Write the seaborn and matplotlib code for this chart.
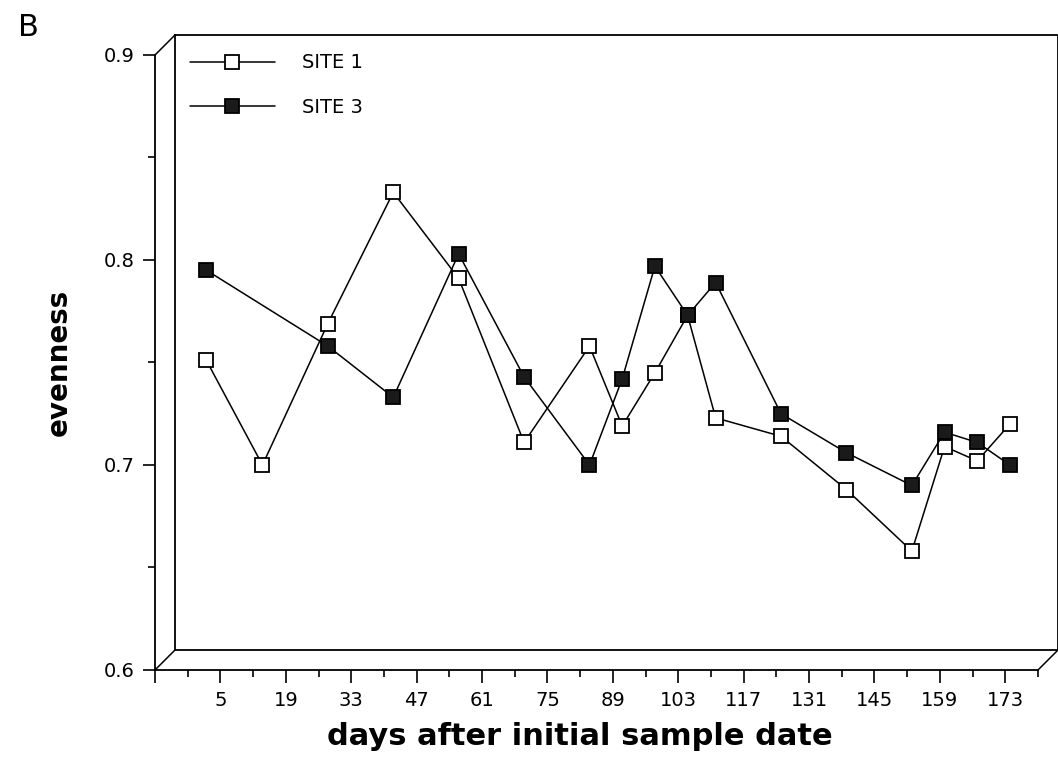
"""Evenness over time at two sampling sites (panel B), pseudo-3D frame."""

import matplotlib

matplotlib.use("Agg")
import matplotlib.pyplot as plt
import matplotlib.transforms as mtransforms
from matplotlib.lines import Line2D
from matplotlib.ticker import FixedLocator, NullFormatter
import pandas as pd
import seaborn as sns

# values
days_site1 = [2, 14, 28, 42, 56, 70, 84, 91, 98, 105, 111, 125, 139, 153, 160, 167, 174]
even_site1 = [0.751, 0.700, 0.769, 0.833, 0.791, 0.711, 0.758, 0.719, 0.745, 0.773,
              0.723, 0.714, 0.688, 0.658, 0.709, 0.702, 0.720]
days_site3 = [2, 28, 42, 56, 70, 84, 91, 98, 105, 111, 125, 139, 153, 160, 167, 174]
even_site3 = [0.795, 0.758, 0.733, 0.803, 0.743, 0.700, 0.742, 0.797, 0.773, 0.789,
              0.725, 0.706, 0.690, 0.716, 0.711, 0.700]

x_major = [-9, 5, 19, 33, 47, 61, 75, 89, 103, 117, 131, 145, 159, 173]
x_labels = [""] + [str(d) for d in x_major[1:]]
x_minor = [-2, 12, 26, 40, 54, 68, 82, 96, 110, 124, 138, 152, 166, 180]
y_major = [0.6, 0.7, 0.8, 0.9]
y_labels = ["0.6", "0.7", "0.8", "0.9"]
y_minor = [0.65, 0.75, 0.85]

sns.set_style("ticks")
plt.rcParams["font.family"] = ["DejaVu Sans"]
plt.rcParams["text.color"] = "black"
plt.rcParams["axes.labelcolor"] = "black"
plt.rcParams["xtick.color"] = "black"
plt.rcParams["ytick.color"] = "black"

df1 = pd.DataFrame({"day": days_site1, "evenness": even_site1})
df3 = pd.DataFrame({"day": days_site3, "evenness": even_site3})

W, H, DPI = 1058, 769, 100
fig = plt.figure(figsize=(W / DPI, H / DPI), dpi=DPI)
ax = fig.add_axes([155 / W, (H - 670) / H, 883 / W, 615 / H])

line_kw = dict(color="black", linewidth=1.1, marker="s", markersize=10,
               markeredgewidth=1.3, markeredgecolor="black")
sns.lineplot(data=df1, x="day", y="evenness", ax=ax, markerfacecolor="white",
             **line_kw)
sns.lineplot(data=df3, x="day", y="evenness", ax=ax, markerfacecolor="#1a1a1a",
             **line_kw)

ax.set_xlim(-9, 180)
ax.set_ylim(0.6, 0.9)
ax.xaxis.set_major_locator(FixedLocator(x_major))
ax.set_xticklabels(x_labels)
ax.xaxis.set_minor_locator(FixedLocator(x_minor))
ax.xaxis.set_minor_formatter(NullFormatter())
ax.yaxis.set_major_locator(FixedLocator(y_major))
ax.set_yticklabels(y_labels)
ax.yaxis.set_minor_locator(FixedLocator(y_minor))
ax.yaxis.set_minor_formatter(NullFormatter())
ax.tick_params(which="major", direction="out", length=9, width=1.2,
               labelsize=14, pad=6, color="black", labelcolor="black")
ax.tick_params(which="minor", direction="out", length=5, width=1.2, color="black")

for side in ("top", "right"):
    ax.spines[side].set_visible(False)
for side in ("left", "bottom"):
    ax.spines[side].set_linewidth(1.3)
    ax.spines[side].set_color("black")

# back wall of the box, shifted up and right
depth = mtransforms.ScaledTranslation(20 / DPI, 20 / DPI, fig.dpi_scale_trans)
back = ax.transAxes + depth
frame_kw = dict(color="black", linewidth=1.3, clip_on=False)
ax.plot([0, 0, 1, 1, 0], [1, 0, 0, 1, 1], transform=back, **frame_kw)
for cx, cy in [(0, 1), (0, 0), (1, 0)]:
    x0, y0 = ax.transAxes.transform((cx, cy))
    x1, y1 = back.transform((cx, cy))
    fig.add_artist(Line2D([x0 / W, x1 / W], [y0 / H, y1 / H],
                          transform=fig.transFigure, color="black", linewidth=1.1))

ax.set_xlabel("days after initial sample date", fontsize=22, fontweight="bold",
              color="black")
ax.xaxis.set_label_coords((580 - 155) / 883, -0.085)
ax.set_ylabel("evenness", fontsize=20, fontweight="bold", labelpad=22,
              color="black")

handles = [
    Line2D([], [], color="black", linewidth=1.1, marker="s", markersize=10,
           markeredgewidth=1.3, markerfacecolor="white", markeredgecolor="black"),
    Line2D([], [], color="black", linewidth=1.1, marker="s", markersize=10,
           markeredgewidth=1.3, markerfacecolor="#1a1a1a", markeredgecolor="black"),
]
leg = ax.legend(handles, ["SITE 1", "SITE 3"], loc="upper left",
                bbox_to_anchor=(172 / W, 1 - 36 / H), bbox_transform=fig.transFigure,
                frameon=False, fontsize=14, handlelength=4.4, handletextpad=1.4,
                labelspacing=1.3)
for t in leg.get_texts():
    t.set_color("black")

fig.text(18 / W, 1 - 28 / H, "B", fontsize=22, ha="left", va="center",
         color="black")

fig.savefig("out.png", dpi=DPI)
plt.close(fig)
